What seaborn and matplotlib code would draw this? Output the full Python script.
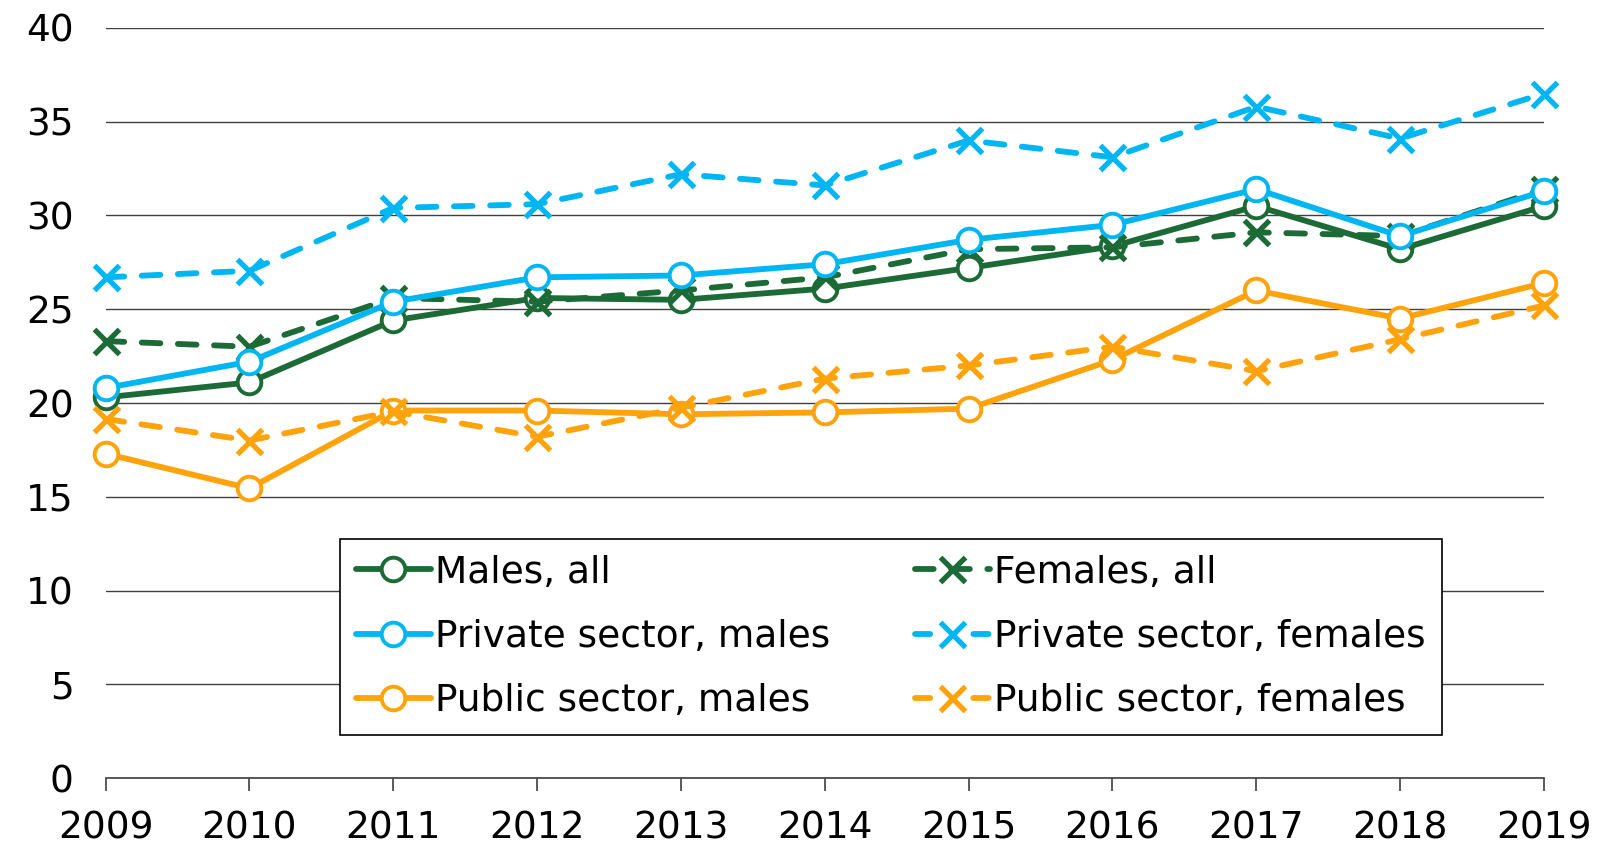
import matplotlib
matplotlib.use("Agg")
import matplotlib.pyplot as plt
import seaborn as sns
import pandas as pd

years = [2009, 2010, 2011, 2012, 2013, 2014, 2015, 2016, 2017, 2018, 2019]

males_all = [20.3, 21.1, 24.4, 25.6, 25.5, 26.1, 27.2, 28.35, 30.5, 28.2, 30.5]
females_all = [23.3, 23.0, 25.6, 25.4, 26.0, 26.7, 28.2, 28.3, 29.1, 28.9, 31.4]
private_males = [20.8, 22.2, 25.4, 26.7, 26.8, 27.4, 28.7, 29.5, 31.4, 28.9, 31.3]
private_females = [26.7, 27.05, 30.4, 30.6, 32.2, 31.6, 34.0, 33.1, 35.8, 34.1, 36.5]
public_males = [17.3, 15.45, 19.6, 19.6, 19.4, 19.5, 19.7, 22.3, 26.0, 24.5, 26.4]
public_females = [19.15, 18.0, 19.55, 18.2, 19.75, 21.3, 22.0, 23.0, 21.7, 23.4, 25.2]

labels = ["Males, all", "Females, all", "Private sector, males",
          "Private sector, females", "Public sector, males", "Public sector, females"]
series = [males_all, females_all, private_males, private_females, public_males, public_females]

green = "#1c6b36"
blue = "#00b6f2"
orange = "#ffa30d"
colors = [green, green, blue, blue, orange, orange]

sns.set_theme(style="white")
plt.rcParams['font.family'] = ['DejaVu Sans']
plt.rcParams['text.color'] = 'black'

fig = plt.figure(figsize=(16, 8.44), dpi=100)
ax = fig.add_axes([0.066, 0.078, 0.899, 0.889])

for lab, vals, col in zip(labels, series, colors):
    df = pd.DataFrame({"year": years, "value": vals})
    female = "females" in lab.lower()
    kws = dict(color=col, linewidth=4.2, clip_on=False,
               markeredgecolor=col, solid_capstyle="round",
               dash_capstyle="round")
    if female:
        kws.update(marker="x", markersize=18, markeredgewidth=3.8,
                   linestyle=(0, (3.2, 3.0)))
    else:
        kws.update(marker="o", markersize=17, markeredgewidth=2.8,
                   markerfacecolor="white", linestyle="-")
    sns.lineplot(data=df, x="year", y="value", ax=ax, label=lab, **kws)

ax.set_xlim(2009, 2019)
ax.set_ylim(0, 40)
ax.set_xticks(years)
ax.set_yticks(range(0, 41, 5))
ax.set_xlabel("")
ax.set_ylabel("")
ax.grid(axis="y", color="#404040", linewidth=1.0)
ax.set_axisbelow(True)
for s in ["top", "right", "left"]:
    ax.spines[s].set_visible(False)
ax.spines["bottom"].set_color("#404040")
ax.spines["bottom"].set_linewidth(1.2)
ax.tick_params(axis="x", bottom=True, length=9, width=1.2, color="#404040",
               labelsize=27, pad=14, labelcolor="black")
ax.tick_params(axis="y", left=False, labelsize=27, pad=17, labelcolor="black")

h, l = ax.get_legend_handles_labels()
order = [0, 2, 4, 1, 3, 5]
leg = ax.legend([h[i] for i in order], [l[i] for i in order], ncol=2,
                loc="upper left", bbox_to_anchor=(0.163, 0.319),
                fontsize=27, frameon=True, fancybox=False, edgecolor="black",
                handlelength=2.0, handletextpad=0.12, columnspacing=2.25,
                labelspacing=0.75, borderpad=0.42, borderaxespad=0,
                framealpha=1)
leg.get_frame().set_linewidth(1.2)
for t in leg.get_texts():
    t.set_color("black")
# short dash pieces either side of the x marker in the legend
for line, lab in zip(leg.get_lines(), [l[i] for i in order]):
    if "females" in lab:
        line.set_linestyle((0, (2.6, 7.4)))

plt.savefig("out.png", dpi=100)
